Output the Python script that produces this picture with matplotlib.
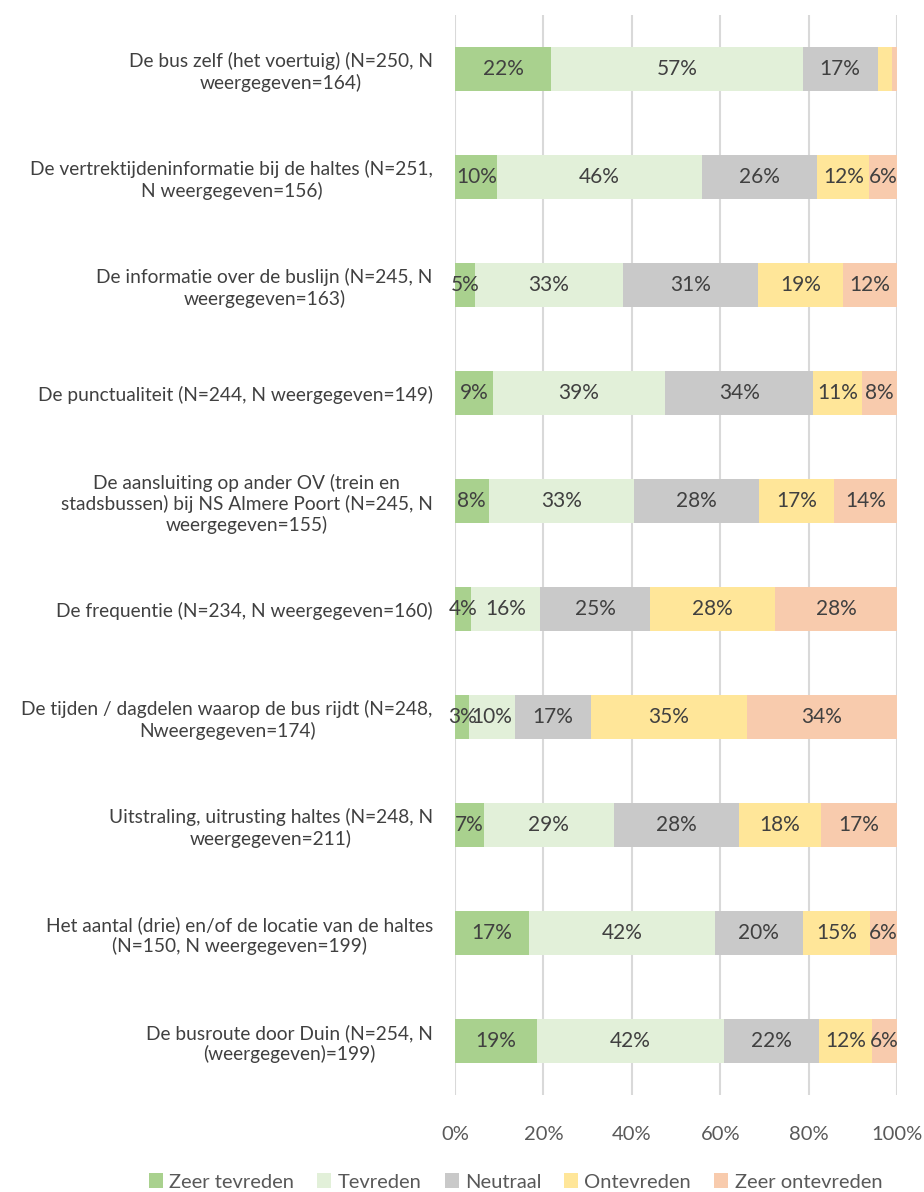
import numpy as np
import matplotlib
matplotlib.use("Agg")
import matplotlib.pyplot as plt

plt.rcParams['font.family'] = ['Lato', 'DejaVu Sans']

categories = [
    "De bus zelf (het voertuig) (N=250, N\nweergegeven=164)",
    "De vertrektijdeninformatie bij de haltes (N=251,\nN weergegeven=156)",
    "De informatie over de buslijn (N=245, N\nweergegeven=163)",
    "De punctualiteit (N=244, N weergegeven=149)",
    "De aansluiting op ander OV (trein en\nstadsbussen) bij NS Almere Poort (N=245, N\nweergegeven=155)",
    "De frequentie (N=234, N weergegeven=160)",
    "De tijden / dagdelen waarop de bus rijdt (N=248,\nNweergegeven=174)",
    "Uitstraling, uitrusting haltes (N=248, N\nweergegeven=211)",
    "Het aantal (drie) en/of de locatie van de haltes\n(N=150, N weergegeven=199)",
    "De busroute door Duin (N=254, N\n(weergegeven)=199)",
]

series_names = ["Zeer tevreden", "Tevreden", "Neutraal", "Ontevreden", "Zeer ontevreden"]

zeer_tevreden = [21.7, 9.6, 4.6, 8.6, 7.6, 3.6, 3.2, 6.6, 16.8, 18.6]
tevreden = [57.0, 46.2, 33.3, 38.9, 32.9, 15.7, 10.4, 29.3, 42.0, 42.2]
neutraal = [16.9, 26.2, 30.7, 33.6, 28.3, 24.9, 17.2, 28.4, 19.9, 21.6]
ontevreden = [3.3, 11.7, 19.2, 11.0, 17.0, 28.2, 35.2, 18.4, 15.3, 12.0]
zeer_ontevreden = [1.1, 6.3, 12.2, 7.9, 14.2, 27.6, 34.0, 17.3, 6.0, 5.6]

# labels die in het origineel niet getoond worden (rij, serie)
hidden_labels = {(0, 3), (0, 4)}

colors = ["#A9D18E", "#E2F0D9", "#C9C9C9", "#FFE699", "#F8CBAD"]
text_color = "#404040"

data = np.array([zeer_tevreden, tevreden, neutraal, ontevreden, zeer_ontevreden])

fig = plt.figure(figsize=(9.24, 11.92), dpi=100)
ax = fig.add_axes([455 / 924, 1 - 1095 / 1192, 442 / 924, 1080 / 1192])

y = np.arange(len(categories))
left = np.zeros(len(categories))
for s in range(len(series_names)):
    ax.barh(y, data[s], left=left, height=0.41, color=colors[s],
            label=series_names[s], zorder=2)
    for i in range(len(categories)):
        if (i, s) in hidden_labels:
            continue
        ax.text(left[i] + data[s][i] / 2, y[i], f"{data[s][i]:.0f}%",
                ha='center', va='center', fontsize=15, color=text_color, zorder=3)
    left += data[s]

ax.set_xlim(0, 100)
ax.set_ylim(len(categories) - 0.5, -0.5)
ax.set_xticks([0, 20, 40, 60, 80, 100])
ax.set_xticklabels(["0%", "20%", "40%", "60%", "80%", "100%"])
ax.set_yticks(y)
ax.set_yticklabels(categories, multialignment='center')
ax.tick_params(axis='x', length=0, labelsize=14.5, colors="#595959", pad=22)
ax.tick_params(axis='y', length=0, labelsize=13.8, colors=text_color, pad=16)
ax.grid(axis='x', color="#D9D9D9", linewidth=1.5, zorder=0)
ax.set_axisbelow(True)
for sp in ax.spines.values():
    sp.set_visible(False)

leg = fig.legend(loc='center', bbox_to_anchor=(0.558, 1 - 1182 / 1192), ncol=5,
                 frameon=False, fontsize=14.5, handlelength=0.7, handleheight=0.7,
                 handletextpad=0.3, columnspacing=1.15)
for t in leg.get_texts():
    t.set_color("#595959")

fig.savefig("out.png", dpi=100)
